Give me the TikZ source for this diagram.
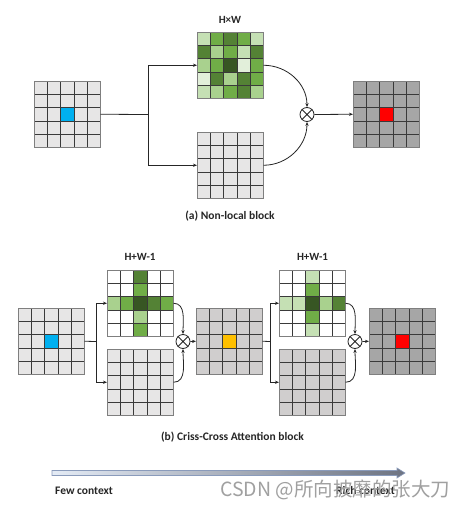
\documentclass[tikz,border=0pt]{standalone}
\usepackage{fontspec}
\setmainfont{Carlito}
\newfontfamily\cjkfont{Noto Sans CJK SC}
\usetikzlibrary{arrows.meta}
\definecolor{cgA}{HTML}{E2EFDA}
\definecolor{cgB}{HTML}{C5E0B4}
\definecolor{cgC}{HTML}{A9D18E}
\definecolor{cgD}{HTML}{70AD47}
\definecolor{cgE}{HTML}{548235}
\definecolor{cgF}{HTML}{375623}
\definecolor{cW}{HTML}{FFFFFF}
\definecolor{cL}{HTML}{E7E6E6}
\definecolor{cM}{HTML}{D0CECE}
\definecolor{cD}{HTML}{A6A6A6}
\definecolor{cBl}{HTML}{00B0F0}
\definecolor{cYl}{HTML}{FFC000}
\definecolor{cRd}{HTML}{FF0000}
\definecolor{lineC}{HTML}{3A3A3A}
\definecolor{borderC}{HTML}{7F7F7F}
\definecolor{wmark}{HTML}{A0A0A0}
\definecolor{arrL}{HTML}{E4EBF5}
\definecolor{arrR}{HTML}{6E7482}
\definecolor{arrO}{HTML}{8A9BBB}
\tikzset{
  gridbox/.style={minimum size=66.5pt,inner sep=0pt,outer sep=0pt},
  cellline/.style={draw=lineC,line width=0.75pt},
  gridborder/.style={draw=borderC,line width=1pt},
  conn/.style={draw=black!85,line width=0.8pt},
  arr/.style={conn,-{Stealth[length=4pt,width=3.2pt]}},
  otimes/.style={circle,draw=black!85,line width=0.8pt,minimum size=14pt,inner sep=0pt,fill=white},
  lab/.style={font=\bfseries\fontsize{11}{13}\selectfont,text=black!85,inner sep=0pt},
  captext/.style={font=\bfseries\fontsize{11.5}{13}\selectfont,text=black!85,inner sep=0pt},
  smalltext/.style={font=\bfseries\fontsize{11.5}{13}\selectfont,text=black!85,inner sep=0pt}
}
\newcommand\cellgrid[4]{%
  \node[gridbox] (#1) at ({#2+33.25},{-#3-33.25}) {};
  \foreach \cc [count=\i from 0] in {#4} {%
    \pgfmathtruncatemacro\rr{\i/5}%
    \pgfmathtruncatemacro\cl{\i-5*\rr}%
    \fill[\cc] ({#2+\cl*13.3},{-#3-\rr*13.3}) rectangle ++(13.3,-13.3);
  }%
  \foreach \k in {1,2,3,4} {%
    \draw[cellline] ({#2+\k*13.3},{-#3}) -- ++(0,-66.5);
    \draw[cellline] ({#2},{-#3-\k*13.3}) -- ++(66.5,0);
  }%
  \draw[gridborder] (#1.north west) rectangle (#1.south east);
}
\newcommand\plaingrid[5]{%
  \cellgrid{#1}{#2}{#3}{#4,#4,#4,#4,#4,#4,#4,#4,#4,#4,#4,#4,#5,#4,#4,#4,#4,#4,#4,#4,#4,#4,#4,#4,#4}%
}
\begin{document}
\begin{tikzpicture}[x=1pt,y=1pt]
\useasboundingbox (0,0) rectangle (465,-509);
\fill[white] (0,0) rectangle (465,-509);

% ---------- (a) Non-local block ----------
\plaingrid{Ain}{34}{81}{cL}{cBl}
\cellgrid{Ahw}{197}{32}{cgB,cgD,cgE,cgD,cgB,
  cgE,cgC,cgD,cgB,cgE,
  cgC,cgD,cgF,cgA,cgD,
  cgA,cgE,cgC,cgE,cgD,
  cgB,cgC,cgD,cgE,cgC}
\plaingrid{Abot}{197}{132}{cL}{cL}
\plaingrid{Aout}{353}{81}{cD}{cRd}
\node[otimes] (oA) at (307,-114.5) {};
\draw[conn] (oA.45) -- (oA.225) (oA.135) -- (oA.315);
\node[lab] (lHW) at (230,-20) {H×W};
\node[captext] (capA) at (230,-216) {(a) Non-local block};

\coordinate (Asplit) at (148,-114.5);
\draw[conn] (Ain.east) -- (Asplit);
\draw[arr] (Asplit) |- (Ahw.west);
\draw[arr] (Asplit) |- (Abot.west);
\draw[arr] (Ahw.east) to[out=0,in=90] (oA.north);
\draw[arr] (Abot.east) to[out=0,in=-90] (oA.south);
\draw[arr] (oA.east) -- (Aout.west);

% ---------- (b) Criss-Cross Attention block ----------
\plaingrid{Bin}{18}{308}{cL}{cBl}
\cellgrid{Bc1}{107}{270}{cW,cW,cgE,cW,cW,
  cW,cW,cgD,cW,cW,
  cgC,cgD,cgF,cgE,cgD,
  cW,cW,cgC,cW,cW,
  cW,cW,cgD,cW,cW}
\plaingrid{Bb1}{107}{349}{cL}{cL}
\node[otimes] (oB1) at (183,-341.5) {};
\draw[conn] (oB1.45) -- (oB1.225) (oB1.135) -- (oB1.315);
\plaingrid{Bmid}{196}{308}{cM}{cYl}
\cellgrid{Bc2}{279}{270}{cW,cW,cgB,cW,cW,
  cW,cW,cgD,cW,cW,
  cgB,cgB,cgF,cgC,cgE,
  cW,cW,cgD,cW,cW,
  cW,cW,cgB,cW,cW}
\plaingrid{Bb2}{279}{349}{cM}{cM}
\node[otimes] (oB2) at (355,-341.5) {};
\draw[conn] (oB2.45) -- (oB2.225) (oB2.135) -- (oB2.315);
\plaingrid{Bout}{369}{308}{cD}{cRd}

\node[lab] (lHW1) at (140,-257) {H+W-1};
\node[lab] (lHW2) at (312.5,-257) {H+W-1};
\node[captext] (capB) at (232.5,-437) {(b) Criss-Cross Attention block};

\coordinate (Bsplit1) at (96,-341.5);
\draw[conn] (Bin.east) -- (Bsplit1);
\draw[arr] (Bsplit1) |- (Bc1.west);
\draw[arr] (Bsplit1) |- (Bb1.west);
\draw[arr] (Bc1.east) to[out=0,in=90] (oB1.north);
\draw[arr] (Bb1.east) to[out=0,in=-90] (oB1.south);
\draw[arr] (oB1.east) -- (Bmid.west);

\coordinate (Bsplit2) at (270,-341.5);
\draw[conn] (Bmid.east) -- (Bsplit2);
\draw[arr] (Bsplit2) |- (Bc2.west);
\draw[arr] (Bsplit2) |- (Bb2.west);
\draw[arr] (Bc2.east) to[out=0,in=90] (oB2.north);
\draw[arr] (Bb2.east) to[out=0,in=-90] (oB2.south);
\draw[arr] (oB2.east) -- (Bout.west);

% ---------- context arrow ----------
\path[draw=arrO,line width=0.6pt,left color=arrL,right color=arrR]
  (52,-470.5) -- (397,-470.5) -- (397,-468) -- (405,-473) -- (397,-478) -- (397,-475.5) -- (52,-475.5) -- cycle;
\node[smalltext,anchor=west] (few) at (55,-491) {Few context};
\node[smalltext,anchor=west] (rich) at (336,-491) {Rich context};
\node[anchor=west,inner sep=0pt,text=wmark,font=\cjkfont\fontsize{19.5}{21}\selectfont] (wm) at (220,-490) {CSDN @所向披靡的张大刀};
\end{tikzpicture}
\end{document}
